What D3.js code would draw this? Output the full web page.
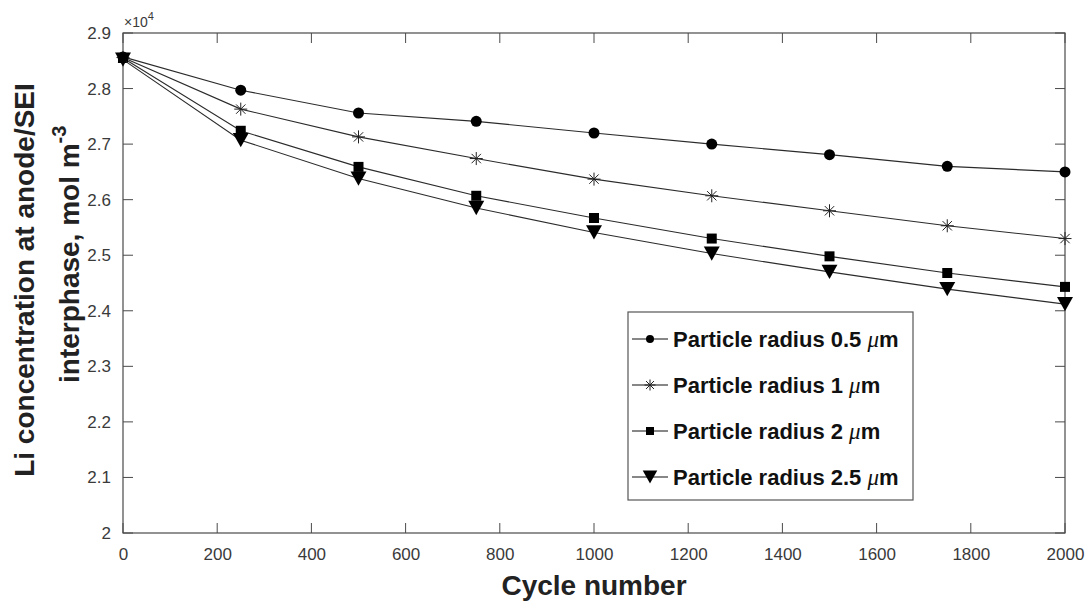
<!DOCTYPE html>
<html>
<head>
<meta charset="utf-8">
<script src="https://cdn.jsdelivr.net/npm/d3@7"></script>
<style>
  body { margin: 0; background: #fff; }
  svg { display: block; font-family: "Liberation Sans", Arial, sans-serif; }
</style>
</head>
<body>
<div id="chart-area"></div>
<script>
// cycle number vs Li concentration (x10^4 mol m^-3)
let cycles = [0, 250, 500, 750, 1000, 1250, 1500, 1750, 2000];
let r05 = [2.857, 2.797, 2.756, 2.741, 2.720, 2.700, 2.681, 2.660, 2.650];
let r1 = [2.856, 2.763, 2.713, 2.674, 2.637, 2.607, 2.580, 2.553, 2.530];
let r2 = [2.855, 2.724, 2.659, 2.607, 2.567, 2.530, 2.498, 2.468, 2.443];
let r25 = [2.852, 2.707, 2.638, 2.585, 2.541, 2.503, 2.470, 2.439, 2.412];

let seriesNames = ["Particle radius 0.5 ", "Particle radius 1 ", "Particle radius 2 ", "Particle radius 2.5 "];
let markers = ["circle", "star", "square", "triangle"];
let xTicks = [0, 200, 400, 600, 800, 1000, 1200, 1400, 1600, 1800, 2000];
let yTicks = [2, 2.1, 2.2, 2.3, 2.4, 2.5, 2.6, 2.7, 2.8, 2.9];

let W = 1089, H = 603;
let margin = {top: 33, right: 24, bottom: 70, left: 123};
let width = W - margin.left - margin.right;
let height = H - margin.top - margin.bottom;

let svg = d3.select("#chart-area").append("svg")
    .attr("width", W)
    .attr("height", H);

let g = svg.append("g")
    .attr("transform", "translate(" + margin.left + "," + margin.top + ")");

let x = d3.scaleLinear().domain([0, 2000]).range([0, width]);
let y = d3.scaleLinear().domain([2, 2.9]).range([height, 0]);

let axisColor = "#4a4a4a";
let tickLen = 10;

// axes, inner ticks on all sides
let xAxis = d3.axisBottom(x).tickValues(xTicks).tickSize(0).tickPadding(15).tickFormat(d3.format("d"));
let yAxis = d3.axisLeft(y).tickValues(yTicks).tickSize(0).tickPadding(12).tickFormat(d => d3.format("")(+d.toFixed(1)));

let xg = g.append("g").attr("transform", "translate(0," + height + ")").call(xAxis);
let yg = g.append("g").call(yAxis);
[xg, yg].forEach(a => {
    a.select(".domain").remove();
    a.attr("font-family", null);
    a.selectAll("text")
        .style("font-size", "17px")
        .style("font-family", "'Liberation Sans', Arial, sans-serif")
        .attr("fill", "#3a3a3a");
});

// ticks pointing inward
let tickG = g.append("g").attr("stroke", axisColor).attr("stroke-width", 1);
xTicks.forEach(t => {
    tickG.append("line").attr("x1", x(t)).attr("x2", x(t)).attr("y1", height).attr("y2", height - tickLen);
    tickG.append("line").attr("x1", x(t)).attr("x2", x(t)).attr("y1", 0).attr("y2", tickLen);
});
yTicks.forEach(t => {
    tickG.append("line").attr("x1", 0).attr("x2", tickLen).attr("y1", y(t)).attr("y2", y(t));
    tickG.append("line").attr("x1", width).attr("x2", width - tickLen).attr("y1", y(t)).attr("y2", y(t));
});

g.append("rect")
    .attr("width", width)
    .attr("height", height)
    .attr("fill", "none")
    .attr("stroke", axisColor)
    .attr("stroke-width", 1.2);

// x10^4 exponent label
let expo = g.append("text")
    .attr("x", 1)
    .attr("y", -6)
    .style("font-size", "14px")
    .attr("fill", "#3a3a3a");
expo.append("tspan").text("\u00d710");
expo.append("tspan").attr("dy", -7).style("font-size", "11px").text("4");

// axis titles
svg.append("text")
    .attr("x", margin.left + width / 2)
    .attr("y", 595)
    .attr("text-anchor", "middle")
    .style("font-size", "28px")
    .style("font-weight", "bold")
    .attr("fill", "#222")
    .text("Cycle number");

svg.append("text")
    .attr("transform", "translate(34,280) rotate(-90)")
    .attr("text-anchor", "middle")
    .style("font-size", "28px")
    .style("font-weight", "bold")
    .attr("fill", "#222")
    .text("Li concentration at anode/SEI");

let yl2 = svg.append("text")
    .attr("transform", "translate(79,383) rotate(-90)")
    .attr("text-anchor", "start")
    .style("font-size", "28px")
    .style("font-weight", "bold")
    .attr("fill", "#222");
yl2.append("tspan").text("interphase, mol m");
yl2.append("tspan").attr("dy", -13).style("font-size", "20px").text("-3");

// marker helper
function markerPath(type, s) {
    if (type === "circle") return d3.symbol(d3.symbolCircle, Math.PI * s * s / 4)();
    if (type === "square") return d3.symbol(d3.symbolSquare, s * s)();
    if (type === "triangle") {
        let w = s * 1.45, h = s * 1.3;
        return "M" + (-w / 2) + "," + (-h / 2) + "L" + (w / 2) + "," + (-h / 2) + "L0," + (h / 2) + "Z";
    }
    // asterisk: + and x
    let r = s / 2, d = r * 0.72;
    return "M" + (-r) + ",0L" + r + ",0M0," + (-r) + "L0," + r +
        "M" + (-d) + "," + (-d) + "L" + d + "," + d + "M" + (-d) + "," + d + "L" + d + "," + (-d);
}

function drawMarker(sel, type, s) {
    let p = sel.append("path").attr("d", markerPath(type, s));
    if (type === "star") p.attr("fill", "none").attr("stroke", "#222").attr("stroke-width", 1);
    else p.attr("fill", "#000");
}

let allSeries = [r05, r1, r2, r25];
let markerSize = [11, 13, 10, 11];

let line = d3.line()
    .x((d, i) => x(cycles[i]))
    .y(d => y(d));

allSeries.forEach((vals, k) => {
    g.append("path")
        .datum(vals)
        .attr("d", line)
        .attr("fill", "none")
        .attr("stroke", "#2b2b2b")
        .attr("stroke-width", 1.1);

    vals.forEach((v, i) => {
        let mg = g.append("g").attr("transform", "translate(" + x(cycles[i]) + "," + y(v) + ")");
        drawMarker(mg, markers[k], markerSize[k]);
    });
});

// legend
let legend = svg.append("g").attr("transform", "translate(628,312)");
legend.append("rect")
    .attr("width", 285)
    .attr("height", 188)
    .attr("fill", "#fff")
    .attr("stroke", "#555")
    .attr("stroke-width", 1.2);

let legendSize = [8, 11, 8, 10];
seriesNames.forEach((name, k) => {
    let ly = 27 + k * 46;
    legend.append("line")
        .attr("x1", 4).attr("x2", 40)
        .attr("y1", ly).attr("y2", ly)
        .attr("stroke", "#111")
        .attr("stroke-width", 1.2);
    let mg = legend.append("g").attr("transform", "translate(22," + ly + ")");
    drawMarker(mg, markers[k], legendSize[k]);
    let t = legend.append("text")
        .attr("x", 45)
        .attr("y", ly + 8)
        .style("font-size", "22px")
        .style("font-weight", "bold")
        .attr("fill", "#111");
    t.append("tspan").text(name);
    t.append("tspan")
        .style("font-family", "'Liberation Serif', 'DejaVu Serif', serif")
        .style("font-style", "italic")
        .style("font-weight", "normal")
        .style("font-size", "23px")
        .text("\u03bc");
    t.append("tspan").text("m");
});
</script>
</body>
</html>
